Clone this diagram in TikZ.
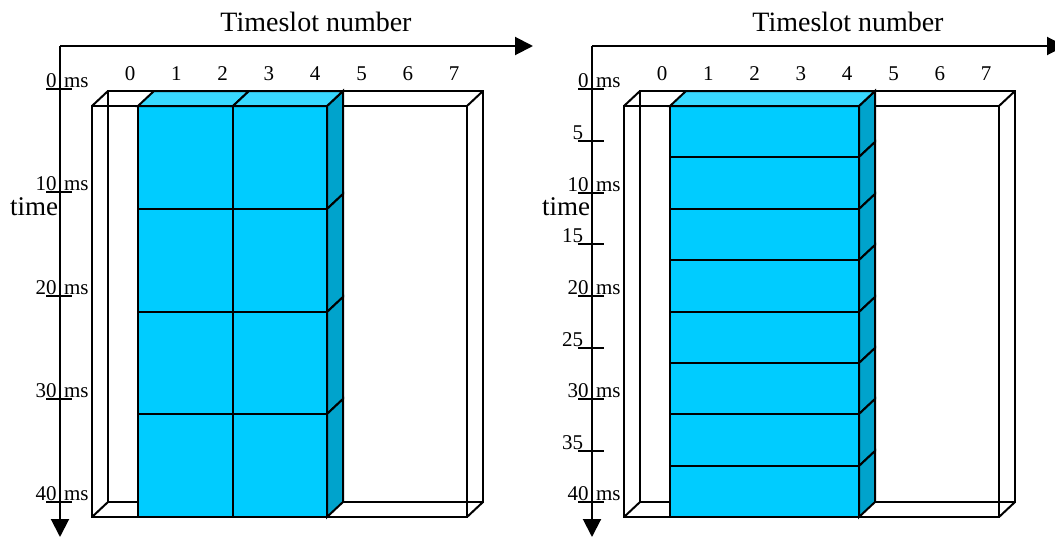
\documentclass[tikz,border=0pt]{standalone}
\usepackage{fontspec}
\setmainfont{Liberation Serif}
\usetikzlibrary{arrows.meta}
\definecolor{frontblue}{HTML}{00CCFF}
\definecolor{topblue}{HTML}{38D8FF}
\definecolor{sideblue}{HTML}{00A3CC}
\begin{document}
\begin{tikzpicture}[x=1pt,y=-1pt,line width=2pt,line join=miter,
  axisarrow/.style={-{Triangle[length=18pt,width=18pt]}},
  lbl/.style={font=\fontsize{21}{21}\selectfont,inner sep=0pt},
  titlelbl/.style={font=\fontsize{28}{28}\selectfont,inner sep=0pt,anchor=base},
  timelbl/.style={font=\fontsize{27}{27}\selectfont,inner sep=0pt,anchor=base west},
  frontface/.style={draw=black,fill=frontblue},
  topface/.style={draw=black,fill=topblue},
  sideface/.style={draw=black,fill=sideblue},
  frame/.style={draw=black}]
\useasboundingbox (0,0) rectangle (1055,538);

% ================= common panel drawing
\foreach \off/\P in {0/L,532/R}{
  \begin{scope}[xshift=\off pt]
    \coordinate (\P-o) at (60,46);
    \coordinate (\P-xe) at (533,46);
    \coordinate (\P-ye) at (60,537);
    \draw[axisarrow] (\P-o) -- (\P-xe);
    \draw[axisarrow] (\P-o) -- (\P-ye);
    \node[titlelbl] (\P-title) at (316,31) {Timeslot number};
    \node[timelbl] (\P-time) at (9,215) {time};
    \foreach \i in {0,...,7}
      \node[lbl,anchor=base] (\P-s\i) at ({130+46.3*\i},80) {\i};
    % wire frame box
    \draw[frame] (92,106) rectangle (467,517);
    \draw[frame] (108,91) rectangle (483,502);
    \draw[frame] (92,106) -- (108,91);
    \draw[frame] (92,517) -- (108,502);
    \draw[frame] (467,106) -- (483,91);
    \draw[frame] (467,517) -- (483,502);
  \end{scope}
}

% ---------- left block: 4 rows x 2 columns
\foreach \ya/\yb in {106/209,209/312,312/414,414/517}{
  \draw[frontface] (138,\ya) rectangle (233,\yb);
  \draw[frontface] (233,\ya) rectangle (327,\yb);
  \draw[sideface] (327,\ya) -- (343,\ya-15) -- (343,\yb-15) -- (327,\yb) -- cycle;
}
\draw[topface] (138,106) -- (154,91) -- (249,91) -- (233,106) -- cycle;
\draw[topface] (233,106) -- (249,91) -- (343,91) -- (327,106) -- cycle;

% left tick marks and labels
\foreach \ty [count=\k from 0] in {89,192,296,399,502}{
  \coordinate (L-ta\k) at (46,\ty);
  \coordinate (L-tb\k) at (72,\ty);
  \draw (L-ta\k) -- (L-tb\k);
  \pgfmathtruncatemacro\v{10*\k}
  \node[lbl,anchor=base east] (L-n\k) at (57.5,\ty-1.5) {\v};
  \node[lbl,anchor=base west] (L-m\k) at (63,\ty-1.5) {ms};
}

% ---------- right block: 8 rows
\begin{scope}[xshift=532pt]
\foreach \ya/\yb in {106/157,157/209,209/260,260/312,312/363,363/414,414/466,466/517}{
  \draw[frontface] (138,\ya) rectangle (327,\yb);
  \draw[sideface] (327,\ya) -- (343,\ya-15) -- (343,\yb-15) -- (327,\yb) -- cycle;
}
\draw[topface] (138,106) -- (154,91) -- (343,91) -- (327,106) -- cycle;

\foreach \ty [count=\k from 0] in {89,141,193,244,296,348,399,451,502}{
  \coordinate (R-ta\k) at (46,\ty);
  \coordinate (R-tb\k) at (72,\ty);
  \draw (R-ta\k) -- (R-tb\k);
  \pgfmathtruncatemacro\v{5*\k}
  \pgfmathtruncatemacro\odd{mod(\k,2)}
  \ifnum\odd=1
    \node[lbl,anchor=base east] (R-n\k) at (52,\ty-1.5) {\v};
  \else
    \node[lbl,anchor=base east] (R-n\k) at (57.5,\ty-1.5) {\v};
    \node[lbl,anchor=base west] (R-m\k) at (63,\ty-1.5) {ms};
  \fi
}
\end{scope}
\end{tikzpicture}
\end{document}
